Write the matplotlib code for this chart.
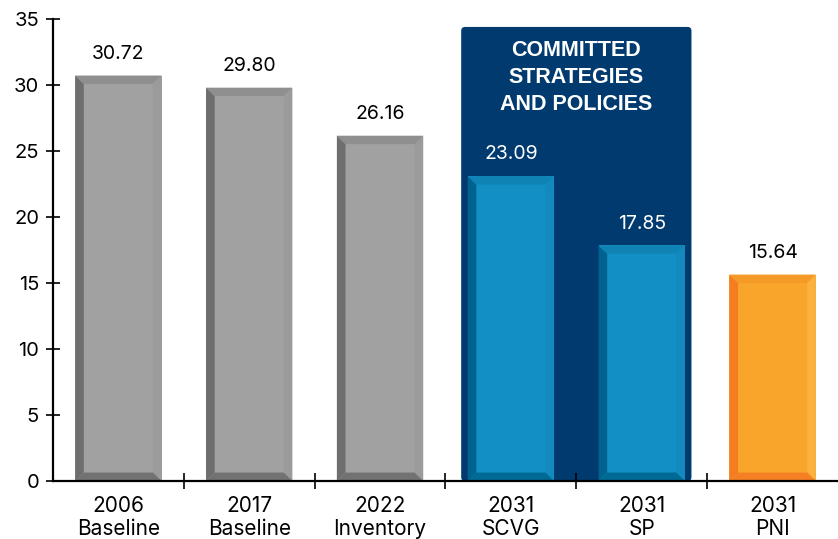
import matplotlib.pyplot as plt
from matplotlib.patches import Polygon, FancyBboxPatch

plt.rcParams['font.family'] = ['Inter', 'DejaVu Sans']

categories = ['2006\nBaseline', '2017\nBaseline', '2022\nInventory',
              '2031\nSCVG', '2031\nSP', '2031\nPNI']
values = [30.72, 29.80, 26.16, 23.09, 17.85, 15.64]
groups = ['gray', 'gray', 'gray', 'blue', 'blue', 'orange']

# face, left, top, right, bottom
palette = {
    'gray':   ('#a0a1a0', '#6d6e6d', '#8e8f8e', '#9a9b9a', '#717271'),
    'blue':   ('#1290c6', '#00628f', '#1083b5', '#1389bd', '#006994'),
    'orange': ('#f9a52b', '#f47d22', '#f69a27', '#fab13f', '#f47f24'),
}
label_colors = {'gray': 'black', 'blue': 'white', 'orange': 'black'}

fig = plt.figure(figsize=(8.38, 5.39), dpi=100)
ax = fig.add_axes([0.0632, 0.1076, 0.9368, 0.8571])
ax.set_xlim(-0.5, 5.5)
ax.set_ylim(0, 35)

# committed strategies panel behind the 2031 SCVG / SP bars
panel = FancyBboxPatch((2.62, 0), 1.76, 34.4,
                       boxstyle='round,pad=0,rounding_size=0.03',
                       mutation_aspect=10, facecolor='#003a6e',
                       edgecolor='none', zorder=0.5)
ax.add_patch(panel)
ax.text(3.5, 30.6, 'COMMITTED\nSTRATEGIES\nAND POLICIES', color='white',
        fontsize=15.5, fontweight='bold', ha='center', va='center',
        linespacing=1.38, family=['Liberation Sans', 'DejaVu Sans'], zorder=3)

width = 0.66
bx, by = 0.066, 0.64
bars = ax.bar(range(len(values)), values, width=width,
              color=[palette[g][0] for g in groups], zorder=2)

for rect, v, g in zip(bars, values, groups):
    face, left, top, right, bottom = palette[g]
    x0 = rect.get_x()
    x1 = x0 + rect.get_width()
    h = rect.get_height()
    bevels = [
        ([(x0, 0), (x0 + bx, by), (x0 + bx, h - by), (x0, h)], left),
        ([(x0, h), (x0 + bx, h - by), (x1 - bx, h - by), (x1, h)], top),
        ([(x1, h), (x1 - bx, h - by), (x1 - bx, by), (x1, 0)], right),
        ([(x0, 0), (x1, 0), (x1 - bx, by), (x0 + bx, by)], bottom),
    ]
    for pts, c in bevels:
        ax.add_patch(Polygon(pts, closed=True, facecolor=c,
                             edgecolor='none', zorder=2.5))
    ax.text(x0 + rect.get_width() / 2, h + 1.65, f'{v:.2f}',
            ha='center', va='center', fontsize=14,
            color=label_colors[g], zorder=3)

# axes styling
for s in ['top', 'right']:
    ax.spines[s].set_visible(False)
ax.spines['left'].set_linewidth(1.6)
ax.spines['bottom'].set_linewidth(1.6)
ax.spines['left'].set_bounds(0, 35)

ax.set_yticks(range(0, 36, 5))
ax.tick_params(axis='y', direction='inout', length=10, width=1.2,
               labelsize=14.5, pad=5)

ax.set_xticks(range(len(categories)))
ax.set_xticklabels(categories, fontsize=15, linespacing=1.2)
ax.tick_params(axis='x', length=0, pad=11)
ax.set_xticks([0.5, 1.5, 2.5, 3.5, 4.5], minor=True)
ax.tick_params(axis='x', which='minor', direction='inout', length=12,
               width=1.2)

for lab in ax.get_yticklabels() + ax.get_xticklabels():
    lab.set_zorder(5)
ax.set_axisbelow(False)

fig.savefig('out.png', dpi=100, facecolor='white')
